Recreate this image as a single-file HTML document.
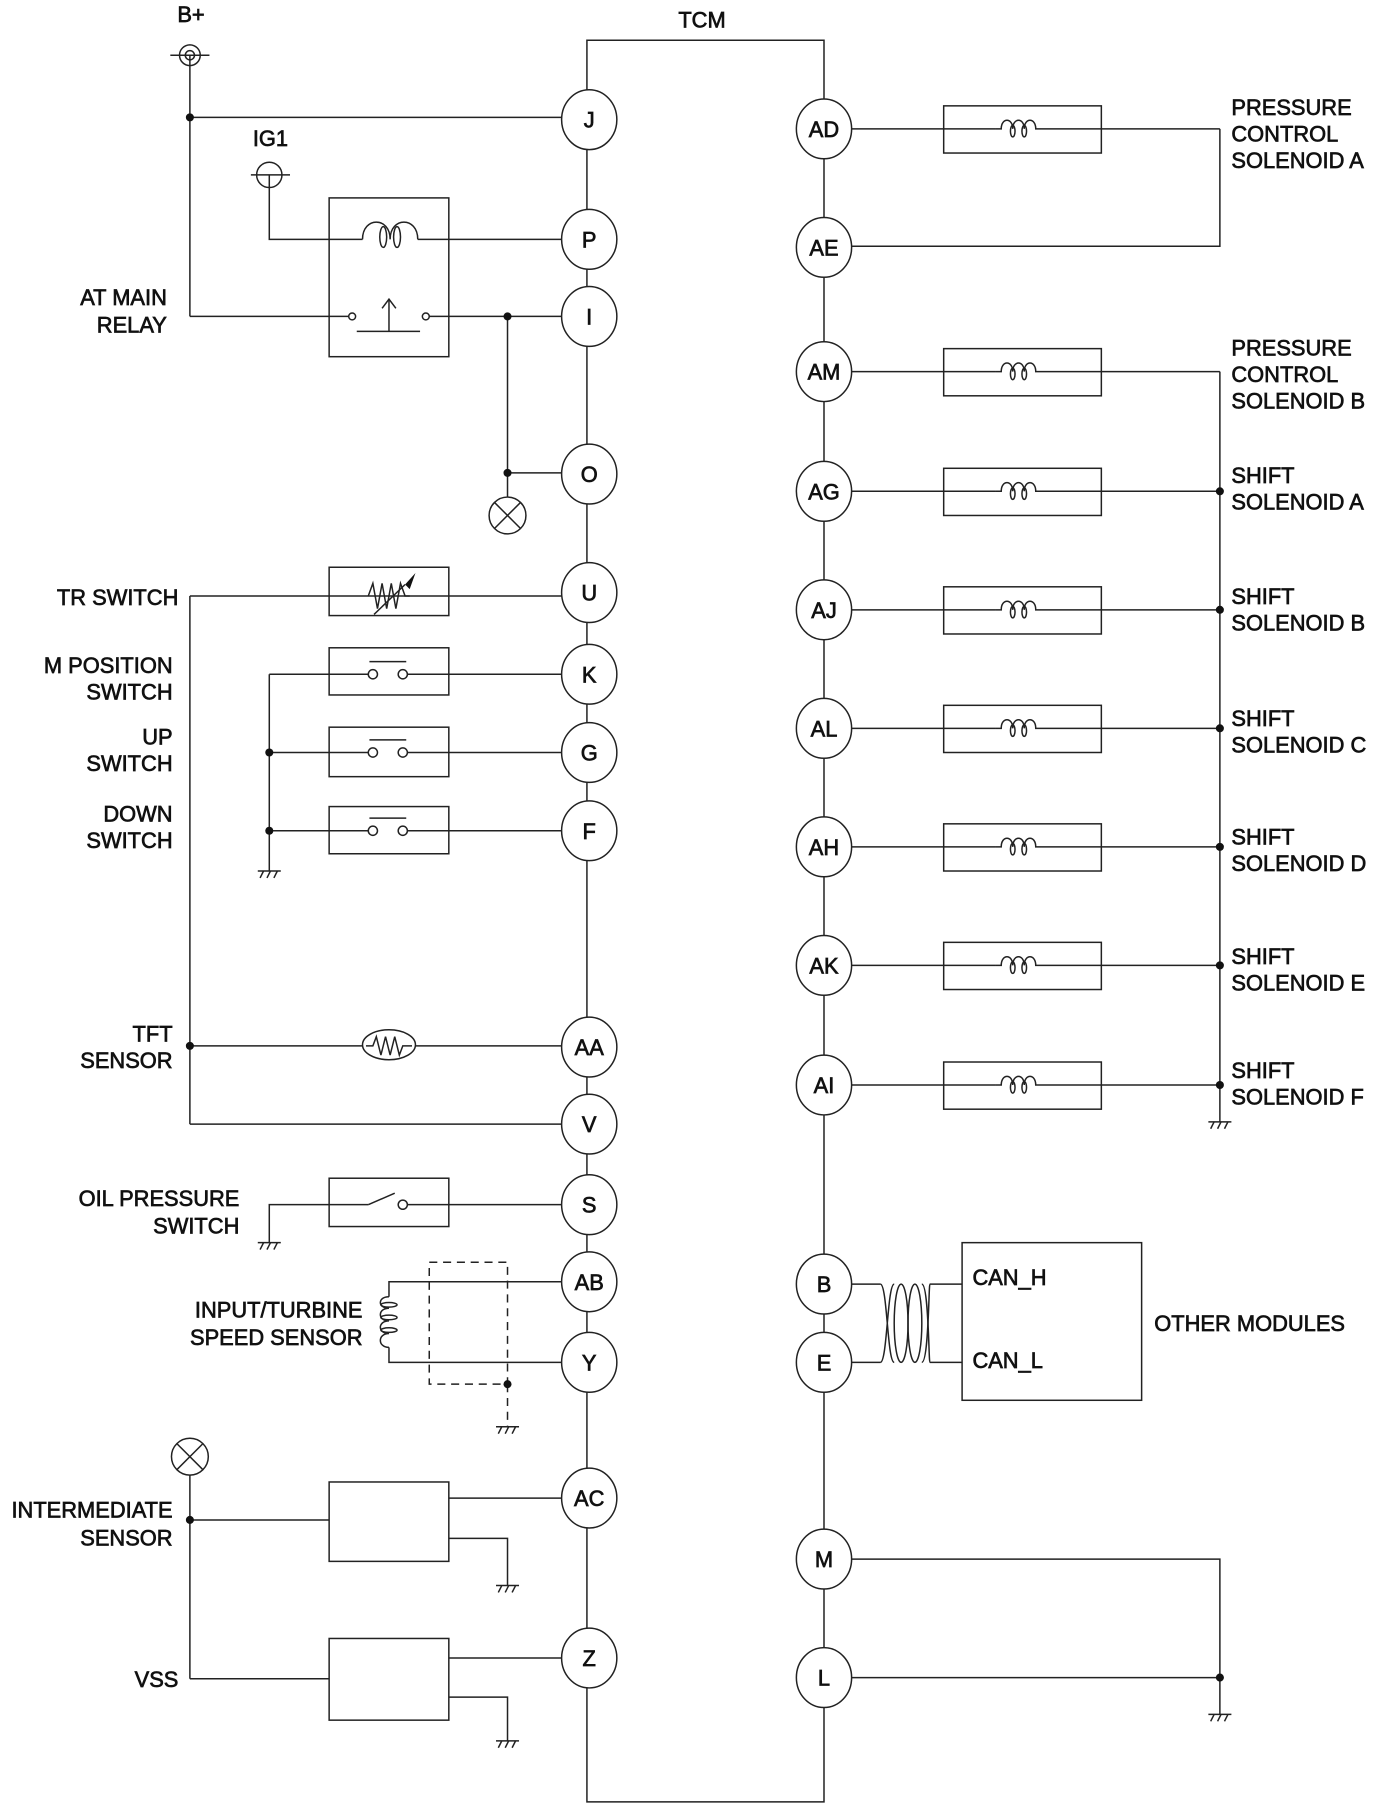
<!DOCTYPE html>
<html><head><meta charset="utf-8"><style>
html,body{margin:0;padding:0;background:#fff;}
svg{display:block;}
text{font-family:"Liberation Sans",Arial,sans-serif;font-size:19px;fill:#111;stroke:#111;stroke-width:0.6;}
</style></head><body>
<svg width="1381" height="1803" viewBox="0 0 1200 1567" preserveAspectRatio="none" xmlns="http://www.w3.org/2000/svg">
<defs>
<g id="gnd" fill="none" stroke="#222" stroke-width="1.3">
<line x1="-10" y1="0" x2="10" y2="0"/>
<line x1="-8" y1="6" x2="-5" y2="0"/><line x1="-2" y1="6" x2="1" y2="0"/><line x1="4" y1="6" x2="7" y2="0"/>
</g>
<g id="sol" fill="none" stroke="#222" stroke-width="1.3">
<path d="M-20,0 h5 C-15,-10 -5,-10 -5,0 C-5,-10 5,-10 5,0 C5,-10 15,-10 15,0 h5"/>
<ellipse cx="-5" cy="2" rx="2" ry="5"/><ellipse cx="5" cy="2" rx="2" ry="5"/>
</g>
<g id="lamp" fill="#fff" stroke="#222" stroke-width="1.3">
<circle cx="0" cy="0" r="16"/><line x1="-11" y1="-11" x2="11" y2="11"/><line x1="-11" y1="11" x2="11" y2="-11"/>
</g>
<g id="nsw" fill="#fff" stroke="#222" stroke-width="1.3">
<circle cx="-13" cy="0" r="4"/><circle cx="13" cy="0" r="4"/><line x1="-16" y1="-11" x2="16" y2="-11"/>
</g>
</defs>
<g fill="none" stroke="#222" stroke-width="1.3">
<polyline points="512,1566 510,1566 510,35 716,35 716,1566 510,1566"/>
<circle cx="165" cy="48" r="9"/><circle cx="165" cy="48" r="4"/><line x1="148" y1="48" x2="182" y2="48"/>
<line x1="165" y1="48" x2="165" y2="275"/>
<line x1="165" y1="102" x2="512" y2="102"/>
<line x1="165" y1="275" x2="303" y2="275"/>
<circle cx="234" cy="152" r="11"/><line x1="218" y1="152" x2="252" y2="152"/>
<polyline points="234,152 234,208 315,208"/>
<path d="M315,208 C315,188 339,188 339,208 C339,188 363,188 363,208"/>
<ellipse cx="333" cy="206" rx="3" ry="9"/><ellipse cx="345" cy="206" rx="3" ry="9"/>
<line x1="363" y1="208" x2="512" y2="208"/>
<rect x="286" y="172" width="104" height="138"/>
<circle cx="306" cy="275" r="3"/><circle cx="370" cy="275" r="3"/>
<line x1="310" y1="288" x2="365" y2="288"/>
<line x1="338" y1="288" x2="338" y2="260"/><polyline points="332,268 338,260 344,268"/>
<line x1="373" y1="275" x2="512" y2="275"/>
<line x1="441" y1="275" x2="441" y2="432"/>
<line x1="441" y1="411" x2="512" y2="411"/>
<line x1="165" y1="518" x2="512" y2="518"/>
<rect x="286" y="493" width="104" height="42"/>
<polyline points="320,518 324,507 328,529 332,507 336,529 340,507 344,529 348,507 352,518 356,518"/>
<line x1="325" y1="534" x2="352" y2="508"/>
<line x1="165" y1="518" x2="165" y2="977"/><line x1="165" y1="977" x2="512" y2="977"/>
<line x1="165" y1="909" x2="512" y2="909"/>
<line x1="234" y1="586" x2="320" y2="586"/><line x1="354" y1="586" x2="512" y2="586"/>
<line x1="234" y1="654" x2="320" y2="654"/><line x1="354" y1="654" x2="512" y2="654"/>
<line x1="234" y1="722" x2="320" y2="722"/><line x1="354" y1="722" x2="512" y2="722"/>
<rect x="286" y="563" width="104" height="41"/><rect x="286" y="632" width="104" height="43"/><rect x="286" y="701" width="104" height="41"/>
<line x1="234" y1="586" x2="234" y2="757"/>
<polyline points="234,1080 234,1047 320,1047"/>
<rect x="286" y="1024" width="104" height="42"/>
<line x1="320" y1="1047" x2="343" y2="1037"/>
<line x1="354" y1="1047" x2="512" y2="1047"/>
<polyline points="512,1114 338,1114 338,1127"/>
<polyline points="512,1184 338,1184 338,1171"/>
<path d="M338,1127 C328,1127 328,1137 338,1137 C328,1137 328,1148 338,1148 C328,1148 328,1159 338,1159 C328,1159 328,1171 338,1171"/>
<ellipse cx="338" cy="1134" rx="7" ry="2"/><ellipse cx="338" cy="1145" rx="7" ry="2"/><ellipse cx="338" cy="1156" rx="7" ry="2"/>
<rect x="373" y="1097" width="68" height="106" stroke-dasharray="7,5"/>
<line x1="441" y1="1203" x2="441" y2="1240" stroke-dasharray="7,5"/>
<line x1="165" y1="1282" x2="165" y2="1459"/>
<line x1="165" y1="1321" x2="286" y2="1321"/>
<rect x="286" y="1288" width="104" height="69"/>
<line x1="390" y1="1302" x2="512" y2="1302"/>
<polyline points="390,1337 441,1337 441,1378"/>
<line x1="165" y1="1459" x2="286" y2="1459"/>
<rect x="286" y="1424" width="104" height="71"/>
<line x1="390" y1="1441" x2="512" y2="1441"/>
<polyline points="390,1475 441,1475 441,1513"/>
<line x1="716" y1="112" x2="865" y2="112"/><line x1="905" y1="112" x2="1060" y2="112"/>
<polyline points="1060,112 1060,214 716,214"/>
<line x1="716" y1="323" x2="865" y2="323"/><line x1="905" y1="323" x2="1060" y2="323"/>
<line x1="1060" y1="323" x2="1060" y2="975"/>
<line x1="716" y1="427" x2="865" y2="427"/><line x1="905" y1="427" x2="1060" y2="427"/>
<line x1="716" y1="530" x2="865" y2="530"/><line x1="905" y1="530" x2="1060" y2="530"/>
<line x1="716" y1="633" x2="865" y2="633"/><line x1="905" y1="633" x2="1060" y2="633"/>
<line x1="716" y1="736" x2="865" y2="736"/><line x1="905" y1="736" x2="1060" y2="736"/>
<line x1="716" y1="839" x2="865" y2="839"/><line x1="905" y1="839" x2="1060" y2="839"/>
<line x1="716" y1="943" x2="865" y2="943"/><line x1="905" y1="943" x2="1060" y2="943"/>
<rect x="820" y="92" width="137" height="41"/>
<rect x="820" y="303" width="137" height="41"/>
<rect x="820" y="407" width="137" height="41"/>
<rect x="820" y="510" width="137" height="41"/>
<rect x="820" y="613" width="137" height="41"/>
<rect x="820" y="716" width="137" height="41"/>
<rect x="820" y="819" width="137" height="41"/>
<rect x="820" y="923" width="137" height="41"/>
<rect x="836" y="1080" width="156" height="137"/>
<line x1="716" y1="1116" x2="765" y2="1116"/><line x1="808" y1="1116" x2="836" y2="1116"/>
<line x1="716" y1="1184" x2="765" y2="1184"/><line x1="808" y1="1184" x2="836" y2="1184"/>
<path d="M765,1116 C771,1116 771,1184 777,1184"/>
<path d="M765,1184 C771,1184 771,1116 777,1116"/>
<ellipse cx="783" cy="1150" rx="6" ry="34"/><ellipse cx="795" cy="1150" rx="6" ry="34"/>
<path d="M801,1116 C807,1116 807,1184 808,1184"/>
<path d="M801,1184 C807,1184 807,1116 808,1116"/>
<polyline points="716,1355 1060,1355 1060,1490"/>
<line x1="716" y1="1458" x2="1060" y2="1458"/>
</g>
<use href="#sol" x="885" y="112"/><use href="#sol" x="885" y="323"/><use href="#sol" x="885" y="427"/><use href="#sol" x="885" y="530"/>
<use href="#sol" x="885" y="633"/><use href="#sol" x="885" y="736"/><use href="#sol" x="885" y="839"/><use href="#sol" x="885" y="943"/>
<use href="#nsw" x="337" y="586"/><use href="#nsw" x="337" y="654"/><use href="#nsw" x="337" y="722"/>
<circle cx="350" cy="1047" r="4" fill="#fff" stroke="#222" stroke-width="1.3"/>
<g fill="none" stroke="#222" stroke-width="1.3">
<ellipse cx="338" cy="908" rx="23" ry="13" fill="#fff"/>
<polyline points="318,909 324,909 327,901 331,917 335,901 339,917 343,901 347,917 350,909 358,909"/>
</g>
<polygon points="352,508 361,498 356,512" fill="#111"/>
<use href="#lamp" x="441" y="448"/><use href="#lamp" x="165" y="1266"/>
<use href="#gnd" x="234" y="757"/><use href="#gnd" x="234" y="1080"/><use href="#gnd" x="441" y="1240"/>
<use href="#gnd" x="441" y="1378"/><use href="#gnd" x="441" y="1513"/><use href="#gnd" x="1060" y="975"/><use href="#gnd" x="1060" y="1490"/>
<g fill="#111">
<circle cx="165" cy="102" r="3.5"/><circle cx="441" cy="275" r="3.5"/><circle cx="441" cy="411" r="3.5"/>
<circle cx="165" cy="909" r="3.5"/><circle cx="234" cy="654" r="3.5"/><circle cx="234" cy="722" r="3.5"/>
<circle cx="441" cy="1203" r="3.5"/><circle cx="165" cy="1321" r="3.5"/>
<circle cx="1060" cy="427" r="3.5"/><circle cx="1060" cy="530" r="3.5"/><circle cx="1060" cy="633" r="3.5"/>
<circle cx="1060" cy="736" r="3.5"/><circle cx="1060" cy="839" r="3.5"/><circle cx="1060" cy="943" r="3.5"/>
<circle cx="1060" cy="1458" r="3.5"/>
</g>
<g fill="#fff" stroke="#222" stroke-width="1.3">
<ellipse cx="512" cy="104" rx="24" ry="26"/><ellipse cx="512" cy="208" rx="24" ry="26"/><ellipse cx="512" cy="275" rx="24" ry="26"/>
<ellipse cx="512" cy="412" rx="24" ry="26"/><ellipse cx="512" cy="515" rx="24" ry="26"/><ellipse cx="512" cy="586" rx="24" ry="26"/>
<ellipse cx="512" cy="654" rx="24" ry="26"/><ellipse cx="512" cy="722" rx="24" ry="26"/><ellipse cx="512" cy="910" rx="24" ry="26"/>
<ellipse cx="512" cy="977" rx="24" ry="26"/><ellipse cx="512" cy="1047" rx="24" ry="26"/><ellipse cx="512" cy="1114" rx="24" ry="26"/>
<ellipse cx="512" cy="1184" rx="24" ry="26"/><ellipse cx="512" cy="1302" rx="24" ry="26"/><ellipse cx="512" cy="1441" rx="24" ry="26"/>
<ellipse cx="716" cy="112" rx="24" ry="26"/><ellipse cx="716" cy="215" rx="24" ry="26"/><ellipse cx="716" cy="323" rx="24" ry="26"/>
<ellipse cx="716" cy="427" rx="24" ry="26"/><ellipse cx="716" cy="530" rx="24" ry="26"/><ellipse cx="716" cy="633" rx="24" ry="26"/>
<ellipse cx="716" cy="736" rx="24" ry="26"/><ellipse cx="716" cy="839" rx="24" ry="26"/><ellipse cx="716" cy="943" rx="24" ry="26"/>
<ellipse cx="716" cy="1116" rx="24" ry="26"/><ellipse cx="716" cy="1184" rx="24" ry="26"/><ellipse cx="716" cy="1355" rx="24" ry="26"/>
<ellipse cx="716" cy="1458" rx="24" ry="26"/>
</g>
<g text-anchor="middle" style="font-size:18px">
<text x="512" y="111">J</text><text x="512" y="215">P</text><text x="512" y="282">I</text><text x="512" y="419">O</text>
<text x="512" y="522">U</text><text x="512" y="593">K</text><text x="512" y="661">G</text><text x="512" y="729">F</text>
<text x="512" y="917">AA</text><text x="512" y="984">V</text><text x="512" y="1054">S</text><text x="512" y="1121">AB</text>
<text x="512" y="1191">Y</text><text x="512" y="1309">AC</text><text x="512" y="1448">Z</text>
<text x="716" y="119">AD</text><text x="716" y="222">AE</text><text x="716" y="330">AM</text><text x="716" y="434">AG</text>
<text x="716" y="537">AJ</text><text x="716" y="640">AL</text><text x="716" y="743">AH</text><text x="716" y="846">AK</text>
<text x="716" y="950">AI</text><text x="716" y="1123">B</text><text x="716" y="1191">E</text><text x="716" y="1362">M</text>
<text x="716" y="1465">L</text>
<text x="610" y="24">TCM</text><text x="166" y="19">B+</text><text x="235" y="127">IG1</text>
</g>
<g text-anchor="end">
<text x="145" y="265">AT MAIN</text><text x="145" y="289">RELAY</text>
<text x="155" y="526">TR SWITCH</text>
<text x="150" y="585">M POSITION</text><text x="150" y="608">SWITCH</text>
<text x="150" y="647">UP</text><text x="150" y="670">SWITCH</text>
<text x="150" y="714">DOWN</text><text x="150" y="737">SWITCH</text>
<text x="150" y="905">TFT</text><text x="150" y="928">SENSOR</text>
<text x="208" y="1048">OIL PRESSURE</text><text x="208" y="1072">SWITCH</text>
<text x="315" y="1145">INPUT/TURBINE</text><text x="315" y="1169">SPEED SENSOR</text>
<text x="150" y="1319">INTERMEDIATE</text><text x="150" y="1343">SENSOR</text>
<text x="155" y="1466">VSS</text>
</g>
<g>
<text x="1070" y="100">PRESSURE</text><text x="1070" y="123">CONTROL</text><text x="1070" y="146">SOLENOID A</text>
<text x="1070" y="309">PRESSURE</text><text x="1070" y="332">CONTROL</text><text x="1070" y="355">SOLENOID B</text>
<text x="1070" y="420">SHIFT</text><text x="1070" y="443">SOLENOID A</text>
<text x="1070" y="525">SHIFT</text><text x="1070" y="548">SOLENOID B</text>
<text x="1070" y="631">SHIFT</text><text x="1070" y="654">SOLENOID C</text>
<text x="1070" y="734">SHIFT</text><text x="1070" y="757">SOLENOID D</text>
<text x="1070" y="838">SHIFT</text><text x="1070" y="861">SOLENOID E</text>
<text x="1070" y="937">SHIFT</text><text x="1070" y="960">SOLENOID F</text>
<text x="845" y="1117">CAN_H</text><text x="845" y="1189">CAN_L</text>
<text x="1003" y="1157">OTHER MODULES</text>
</g>
</svg>
</body></html>
